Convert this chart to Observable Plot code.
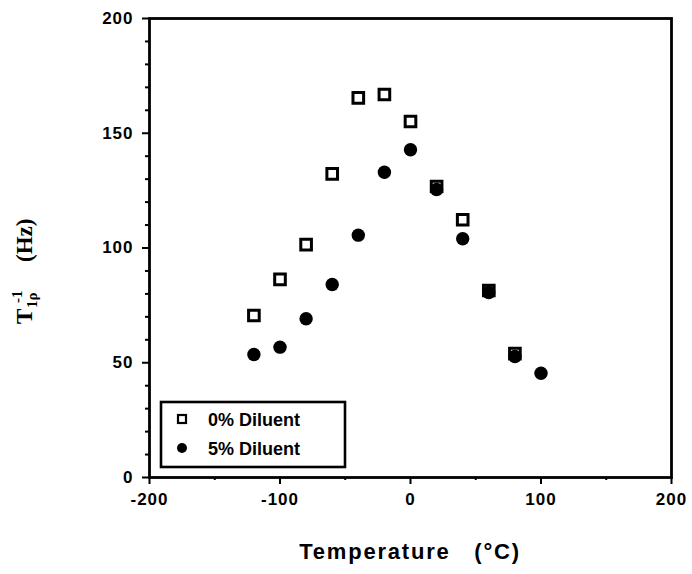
<!DOCTYPE html>
<html>
<head>
<meta charset="utf-8">
<script src="https://cdn.jsdelivr.net/npm/d3@7"></script>
<script src="https://cdn.jsdelivr.net/npm/@observablehq/plot@0.6"></script>
<style>
  html, body { margin: 0; padding: 0; background: #fff; }
  #chart svg { display: block; }
  .tick-lbl text { letter-spacing: 1px; }
</style>
</head>
<body>
<div id="chart"></div>
<script>
// Temperature (°C) for each series
const temps0 = [-120, -100, -80, -60, -40, -20, 0, 20, 40, 60, 80];
const temps5 = [-120, -100, -80, -60, -40, -20, 0, 20, 40, 60, 80, 100];
// 1/T1rho (Hz)
const diluent0 = [70.6, 86.3, 101.5, 132.3, 165.4, 166.9, 155.1, 126.8, 112.3, 81.5, 54.0];
const diluent5 = [53.6, 56.8, 69.2, 84.1, 105.6, 133.0, 142.8, 125.5, 104.0, 80.6, 52.7, 45.4];
const seriesNames = ["0% Diluent", "5% Diluent"];
const xMajor = [-200, -100, 0, 100, 200];
const xMinor = [-150, -50, 50, 150];
const yMajor = [0, 50, 100, 150, 200];
const yMinor = d3.range(0, 201, 10).filter(v => v % 50 !== 0);
const xTitle = "Temperature\u00a0\u00a0\u00a0(°C)";

const rows0 = temps0.map((t, i) => ({t, v: diluent0[i]}));
const rows5 = temps5.map((t, i) => ({t, v: diluent5[i]}));

const font = "'Liberation Sans', Arial, Helvetica, sans-serif";

const plot = Plot.plot({
  width: 692,
  height: 574,
  marginLeft: 149,
  marginRight: 21,
  marginTop: 18,
  marginBottom: 97,
  style: {fontFamily: font, background: "#fff", color: "#000"},
  x: {domain: [-200, 200]},
  y: {domain: [0, 200]},
  marks: [
    Plot.axisY(yMinor, {tickSize: 4, strokeWidth: 2, tickFormat: () => "", label: null}),
    Plot.axisY(yMajor, {tickSize: 7, strokeWidth: 2, tickPadding: 9, fontSize: 17, fontWeight: "bold", label: null, className: "tick-lbl", tickFormat: d => String(d)}),
    Plot.axisX(xMinor, {tickSize: 3, strokeWidth: 2, tickFormat: () => "", label: null}),
    Plot.axisX(xMajor, {tickSize: 7, strokeWidth: 2, tickPadding: 8, fontSize: 17, fontWeight: "bold", label: null, className: "tick-lbl", tickFormat: d => String(d)}),
    Plot.frame({stroke: "#000", strokeWidth: 2.8}),
    Plot.dot(rows0, {x: "t", y: "v", symbol: "square", r: 6, fill: "#fff", stroke: "#000", strokeWidth: 3}),
    Plot.dot(rows5, {x: "t", y: "v", symbol: "circle", r: 6.7, fill: "#000", stroke: "none"})
  ]
});

document.getElementById("chart").appendChild(plot);
const svg = d3.select(plot);

// x-axis title
svg.append("text")
  .attr("x", 410).attr("y", 559)
  .attr("text-anchor", "middle")
  .attr("font-family", font).attr("font-weight", "bold").attr("font-size", 22)
  .attr("letter-spacing", "1.8px")
  .attr("fill", "#000")
  .text(xTitle);

// y-axis title: T_{1ρ}^{-1} (Hz), rotated
const serif = "'Liberation Serif', 'Times New Roman', Times, serif";
function rot(x, y, txt, size) {
  svg.append("text")
    .attr("transform", `translate(${x},${y}) rotate(-90)`)
    .attr("text-anchor", "start")
    .attr("font-family", serif).attr("font-weight", "bold").attr("font-size", size)
    .attr("fill", "#000")
    .text(txt);
}
rot(32, 324, "T", 23);
rot(37, 308, "1ρ", 15);
rot(22, 303, "-1", 15);
rot(32, 262, "(Hz)", 23);

// legend
const lg = svg.append("g");
lg.append("rect").attr("x", 161).attr("y", 402).attr("width", 184).attr("height", 65)
  .attr("fill", "#fff").attr("stroke", "#000").attr("stroke-width", 2.6);
lg.append("rect").attr("x", 178).attr("y", 415).attr("width", 8).attr("height", 8)
  .attr("fill", "#fff").attr("stroke", "#000").attr("stroke-width", 2.2);
lg.append("circle").attr("cx", 182).attr("cy", 448).attr("r", 5)
  .attr("fill", "#000");
seriesNames.forEach((name, i) => {
  lg.append("text").attr("x", 208).attr("y", 426 + i * 29)
    .attr("text-anchor", "start")
    .attr("font-family", font).attr("font-weight", "bold").attr("font-size", 18)
    .attr("fill", "#000")
    .text(name);
});
</script>
</body>
</html>
